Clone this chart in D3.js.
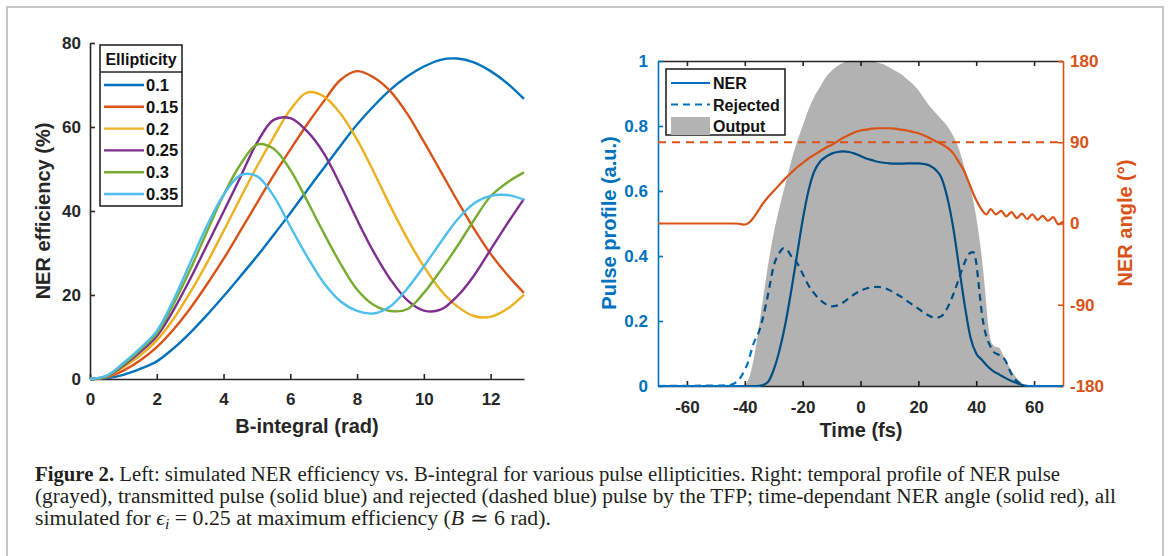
<!DOCTYPE html>
<html><head><meta charset="utf-8">
<script src="https://cdn.jsdelivr.net/npm/d3@7"></script>
<style>body{margin:0;background:#fff}svg{display:block}</style>
</head><body>
<svg id="c" width="1170" height="556"></svg>
<script>
// ---------- Left panel data ----------
const ellipticities = ["0.1","0.15","0.2","0.25","0.3","0.35"];
const ellColors = ["#0072BD","#D95319","#EDB120","#7E2F8E","#77AC30","#4DBEEE"];
const bIntegral = [0,0.5,1,1.5,2,2.5,3,3.5,4,4.5,5,5.5,6,6.5,7,7.5,8,8.5,9,9.5,10,10.5,11,11.5,12,12.5,13];
const eff010 = [0,0.2,1.0,2.4,4.2,7.3,11,15.2,19.7,24.4,29.2,34.3,39.5,44.9,50.2,55.5,60.6,65.0,68.9,72.0,74.4,76.0,76.3,75.4,73.3,70.4,66.7];
const eff015 = [0,0.4,2.0,4.4,7.6,11.8,16.8,22.5,28.6,35.2,41.9,48.5,54.6,60.6,66.1,71.2,73.3,71.8,68.5,63.2,56.5,49.5,42.5,35.8,29.8,24.8,20.5];
const eff020 = [0,0.5,2.8,5.6,9.2,14.3,20.6,27.6,35.2,43.0,50.6,57.6,64.1,68.2,67.3,63.2,57.0,49.3,41.1,33.5,26.8,21.2,17.3,15.0,14.8,16.7,20.1];
const eff025 = [0,0.6,3.2,6.4,10.2,16.4,23.8,31.8,39.8,48.0,56.2,61.7,62.1,59.0,53.8,46.2,37.9,30.2,23.7,18.8,16.3,16.5,19.7,24.6,30.8,37.0,42.9];
const eff030 = [0,0.7,3.5,6.9,10.8,17.8,26.0,35.0,43.8,51.0,55.8,54.8,49.8,42.5,34.8,27.5,21.3,17.6,16.2,16.6,20.5,25.8,31.6,37.8,43.5,46.8,49.2];
const eff035 = [0,0.8,3.8,7.3,11.4,18.8,27.6,36.4,43.8,48.5,48.3,43.6,36.3,29.2,22.9,18.5,16.2,15.6,17.3,21.5,26.8,32.5,37.9,41.8,43.6,43.8,42.7];
const effSeries = [eff010, eff015, eff020, eff025, eff030, eff035];
const bTicks = [0,2,4,6,8,10,12];
const effTicks = [0,20,40,60,80];

// ---------- Right panel data ----------
const tOutput = [-70,-42,-40,-39,-38,-37,-36,-35,-34,-32,-30,-28,-26,-24,-22,-20,-18,-16,-14,-12,-10,-8,-6,-4,-2,0,2,4,6,8,10,12,14,16,18,20,22,24,26,28,30,32,34,36,38,40,41,42,43,44,45,46,47,48,49,50,52,54,56,58,70];
const vOutput = [0,0,0.005,0.015,0.04,0.08,0.13,0.19,0.25,0.37,0.47,0.55,0.62,0.69,0.75,0.8,0.85,0.89,0.92,0.95,0.97,0.985,0.995,1.0,1.0,1.0,1.0,1.0,0.995,0.99,0.98,0.97,0.96,0.945,0.93,0.91,0.885,0.86,0.84,0.82,0.8,0.77,0.73,0.67,0.61,0.52,0.46,0.39,0.3,0.2,0.14,0.125,0.12,0.118,0.1,0.085,0.05,0.025,0.008,0,0];
const tNER = [-70,-36,-34,-32,-30,-28,-26,-24,-22,-20,-18,-16,-14,-12,-10,-8,-6,-4,-2,0,2,4,6,8,10,12,14,16,18,20,22,24,26,28,30,32,34,36,38,40,42,44,46,48,50,52,54,56,58,70];
const vNER = [0,0,0.002,0.012,0.05,0.11,0.19,0.29,0.4,0.51,0.6,0.66,0.69,0.705,0.715,0.72,0.722,0.72,0.715,0.708,0.7,0.695,0.69,0.687,0.685,0.684,0.684,0.685,0.685,0.685,0.683,0.678,0.665,0.64,0.58,0.49,0.37,0.25,0.15,0.1,0.08,0.06,0.045,0.035,0.025,0.016,0.009,0.003,0,0];
const tRej = [-70,-46,-44,-42,-40,-39,-38,-37,-36,-35,-34,-32,-30,-28,-26.5,-25,-24,-22,-20,-18,-16,-14,-12,-10,-8,-6,-4,-2,0,2,4,6,8,10,12,14,16,18,20,22,24,26,28,30,32,34,36,38,39,40,41,42,43,44,45,46,48,50,52,54,56,58,70];
const vRej = [0,0.002,0.006,0.02,0.05,0.07,0.1,0.13,0.15,0.17,0.2,0.28,0.37,0.41,0.424,0.415,0.4,0.38,0.345,0.31,0.285,0.265,0.252,0.245,0.248,0.257,0.27,0.283,0.293,0.3,0.304,0.305,0.302,0.295,0.285,0.275,0.262,0.25,0.238,0.225,0.215,0.21,0.215,0.24,0.28,0.33,0.38,0.41,0.412,0.38,0.3,0.22,0.17,0.14,0.12,0.105,0.095,0.08,0.04,0.015,0.004,0,0];
const tAngle = [-70,-44,-42,-40.5,-39.5,-38,-37,-36,-35,-34,-32,-30,-28,-26,-24,-22,-20,-18,-16,-14,-12,-10,-8,-6,-4,-2,0,2,4,6,8,10,12,14,16,18,20,22,24,26,28,30,32,34,36,37,38,39,40,41,42,43.5,45,46.8,48.6,50.4,52.2,54,55.8,57.6,59.4,61.2,63,64.8,66.6,68.4,70];
const vAngle = [0,0,-0.3,-1.2,-0.8,2.5,6.5,11,16,21,29,36,43,50,56,62,67,72,76,80,84,87,91,95,98,101,103,104,105,105.5,105.5,105.5,105,104,103,101.5,100,97.5,94.5,91,88,84,78,68,57,49,41,33,26,20,15,10,16,10,14,8,12.5,6,11,5,10,4,8.5,3,7,-1,2];
const timeTicks = [-60,-40,-20,0,20,40,60];
const pulseTicks = [0,0.2,0.4,0.6,0.8,1];
const angleTicks = [-180,-90,0,90,180];
const angleRef = 90;

// ---------- Setup ----------
const svg = d3.select("#c");
const FONT = "'Liberation Sans', Arial, Helvetica, sans-serif";
const AX = "#262626";
svg.style("font-family", FONT);
const plain = d => String(d);

// Frame
svg.append("path").attr("d","M7,560 L7,7 L1163,7 L1163,560")
  .attr("fill","none").attr("stroke","#c8c8c8").attr("stroke-width",2);

function styleAxis(g, color, fs){
  g.select(".domain").attr("stroke", color).attr("stroke-width",1.6);
  g.selectAll(".tick line").attr("stroke", color).attr("stroke-width",1.6);
  g.selectAll(".tick text").attr("fill", color).attr("font-size", fs).attr("font-weight","bold").attr("font-family",FONT);
}

// ---------- Left panel ----------
const xL = d3.scaleLinear().domain([0,13]).range([90,524]);
const yL = d3.scaleLinear().domain([0,80]).range([379,43]);
const gL = svg.append("g");

const axBL = gL.append("g").attr("transform","translate(0,379)")
  .call(d3.axisBottom(xL).tickValues(bTicks).tickSizeInner(-5).tickSizeOuter(0).tickPadding(14).tickFormat(plain));
styleAxis(axBL, AX, 17);
const axLL = gL.append("g").attr("transform","translate(90,0)")
  .call(d3.axisLeft(yL).tickValues(effTicks).tickSizeInner(-5).tickSizeOuter(0).tickPadding(9).tickFormat(plain));
styleAxis(axLL, AX, 17);

const lineL = d3.line().x((d,i)=>xL(bIntegral[i])).y(d=>yL(d)).curve(d3.curveCatmullRom.alpha(0.5));
effSeries.forEach((s,k)=>{
  gL.append("path").attr("d", lineL(s)).attr("fill","none")
    .attr("stroke", ellColors[k]).attr("stroke-width",2.4);
});

gL.append("text").attr("transform","translate(43,211) rotate(-90)")
  .attr("text-anchor","middle").attr("dominant-baseline","central")
  .attr("font-size",20).attr("font-weight","bold").attr("fill",AX).text("NER efficiency (%)");
gL.append("text").attr("x",307).attr("y",433).attr("text-anchor","middle")
  .attr("font-size",20).attr("font-weight","bold").attr("fill",AX).text("B-integral (rad)");

// Left legend
const lg = gL.append("g");
lg.append("rect").attr("x",100).attr("y",45).attr("width",82).attr("height",161)
  .attr("fill","#fff").attr("stroke",AX).attr("stroke-width",1.6);
lg.append("line").attr("x1",100).attr("x2",182).attr("y1",72).attr("y2",72).attr("stroke",AX).attr("stroke-width",1.6);
lg.append("text").attr("x",141).attr("y",64.5).attr("text-anchor","middle")
  .attr("font-size",16).attr("font-weight","bold").attr("fill","#111").text("Ellipticity");
const legY = d3.scalePoint().domain(ellipticities).range([85,194]);
ellipticities.forEach((e,k)=>{
  lg.append("line").attr("x1",104).attr("x2",144).attr("y1",legY(e)).attr("y2",legY(e))
    .attr("stroke",ellColors[k]).attr("stroke-width",2.4);
  lg.append("text").attr("x",146).attr("y",legY(e)+6).attr("font-size",16.5)
    .attr("font-weight","bold").attr("fill","#111").text(e);
});

// ---------- Right panel ----------
const xR = d3.scaleLinear().domain([-70,70]).range([658,1063]);
const yR = d3.scaleLinear().domain([0,1]).range([386,61]);
const yA = d3.scaleLinear().domain([-180,180]).range([386,61]);
const BLUE = "#0072BD", ORANGE = "#D95319";
const gR = svg.append("g");

const axTop = gR.append("g").attr("transform","translate(0,61)")
  .call(d3.axisTop(xR).tickValues(timeTicks).tickSizeInner(-5).tickSizeOuter(0).tickFormat(""));
styleAxis(axTop, AX, 17);
const axBR = gR.append("g").attr("transform","translate(0,386)")
  .call(d3.axisBottom(xR).tickValues(timeTicks).tickSizeInner(-5).tickSizeOuter(0).tickPadding(15).tickFormat(plain));
styleAxis(axBR, AX, 17);
const axLR = gR.append("g").attr("transform","translate(658,0)")
  .call(d3.axisLeft(yR).tickValues(pulseTicks).tickSizeInner(-5).tickSizeOuter(0).tickPadding(10).tickFormat(plain));
styleAxis(axLR, BLUE, 17);
const axRR = gR.append("g").attr("transform","translate(1063,0)")
  .call(d3.axisRight(yA).tickValues(angleTicks).tickSizeInner(-5).tickSizeOuter(0).tickPadding(7).tickFormat(plain));
styleAxis(axRR, ORANGE, 17);

const lineNER = d3.line().x((d,i)=>xR(tNER[i])).y(d=>yR(d)).curve(d3.curveMonotoneX);
const lineRej = d3.line().x((d,i)=>xR(tRej[i])).y(d=>yR(d)).curve(d3.curveMonotoneX);
gR.append("path").attr("d", lineNER(vNER)).attr("fill","none").attr("stroke",BLUE).attr("stroke-width",2.2);
gR.append("path").attr("d", lineRej(vRej)).attr("fill","none").attr("stroke",BLUE).attr("stroke-width",2.2)
  .attr("stroke-dasharray","7,5");

// Output area (semi-transparent gray over the pulses)
const areaOut = d3.area().x((d,i)=>xR(tOutput[i])).y0(yR(0)).y1(d=>yR(d)).curve(d3.curveMonotoneX);
gR.append("path").attr("d", areaOut(vOutput)).attr("fill","#000").attr("fill-opacity",0.3);

// Angle
gR.append("line").attr("x1",xR(-70)).attr("x2",xR(70)).attr("y1",yA(angleRef)).attr("y2",yA(angleRef))
  .attr("stroke",ORANGE).attr("stroke-width",2.2).attr("stroke-dasharray","8,6");
const lineAng = d3.line().x((d,i)=>xR(tAngle[i])).y(d=>yA(d)).curve(d3.curveMonotoneX);
gR.append("path").attr("d", lineAng(vAngle)).attr("fill","none").attr("stroke",ORANGE).attr("stroke-width",2.2);

// labels
gR.append("text").attr("x",861).attr("y",437).attr("text-anchor","middle")
  .attr("font-size",20).attr("font-weight","bold").attr("fill",AX).text("Time (fs)");
gR.append("text").attr("transform","translate(609,223) rotate(-90)")
  .attr("text-anchor","middle").attr("dominant-baseline","central")
  .attr("font-size",20).attr("font-weight","bold").attr("fill",BLUE).text("Pulse profile (a.u.)");
gR.append("text").attr("transform","translate(1125,223) rotate(-90)")
  .attr("text-anchor","middle").attr("dominant-baseline","central")
  .attr("font-size",20).attr("font-weight","bold").attr("fill",ORANGE).text("NER angle (°)");

// Right legend
const rl = gR.append("g");
rl.append("rect").attr("x",666).attr("y",69).attr("width",119).attr("height",66)
  .attr("fill","#fff").attr("stroke",AX).attr("stroke-width",1.6);
const legNames = ["NER","Rejected","Output"];
const rlY = d3.scalePoint().domain(legNames).range([83,126]);
rl.append("line").attr("x1",671).attr("x2",710).attr("y1",rlY("NER")).attr("y2",rlY("NER")).attr("stroke",BLUE).attr("stroke-width",2.2);
rl.append("line").attr("x1",671).attr("x2",710).attr("y1",rlY("Rejected")).attr("y2",rlY("Rejected")).attr("stroke",BLUE).attr("stroke-width",2.2).attr("stroke-dasharray","7,5");
rl.append("rect").attr("x",671).attr("y",rlY("Output")-9).attr("width",39).attr("height",18).attr("fill","#b3b3b3");
legNames.forEach(n=>{
  rl.append("text").attr("x",713).attr("y",rlY(n)+6).attr("font-size",16)
    .attr("font-weight","bold").attr("fill","#111").text(n);
});

// ---------- Caption ----------
const SERIF = "'Liberation Serif', 'Times New Roman', serif";
const cap = svg.append("g").attr("font-family",SERIF).attr("fill","#231f20");
const l1 = cap.append("text").attr("x",35).attr("y",481).attr("font-size",17);
l1.append("tspan").attr("font-weight","bold").text("Figure 2.");
l1.append("tspan").text(" Left: simulated NER efficiency vs. B-integral for various pulse ellipticities. Right: temporal profile of NER pulse");
const w1 = l1.node().getComputedTextLength();
const fs = Math.max(12, Math.min(26, 17 * 1025 / w1));
l1.attr("font-size", fs).attr("textLength",1025).attr("lengthAdjust","spacingAndGlyphs");
const l2 = cap.append("text").attr("x",35).attr("y",503).attr("font-size",fs)
  .attr("textLength",1081).attr("lengthAdjust","spacingAndGlyphs")
  .text("(grayed), transmitted pulse (solid blue) and rejected (dashed blue) pulse by the TFP; time-dependant NER angle (solid red), all");
const l3 = cap.append("text").attr("x",35).attr("y",525).attr("font-size",fs)
  .attr("textLength",516).attr("lengthAdjust","spacingAndGlyphs");
l3.append("tspan").text("simulated for ");
l3.append("tspan").attr("font-style","italic").text("\u03F5");
l3.append("tspan").attr("font-style","italic").attr("font-size",fs*0.72).attr("dy",4).text("i");
l3.append("tspan").attr("dy",-4).text(" = 0.25 at maximum efficiency (");
l3.append("tspan").attr("font-style","italic").text("B");
l3.append("tspan").text(" \u2243 6 rad).");
</script>
</body></html>
